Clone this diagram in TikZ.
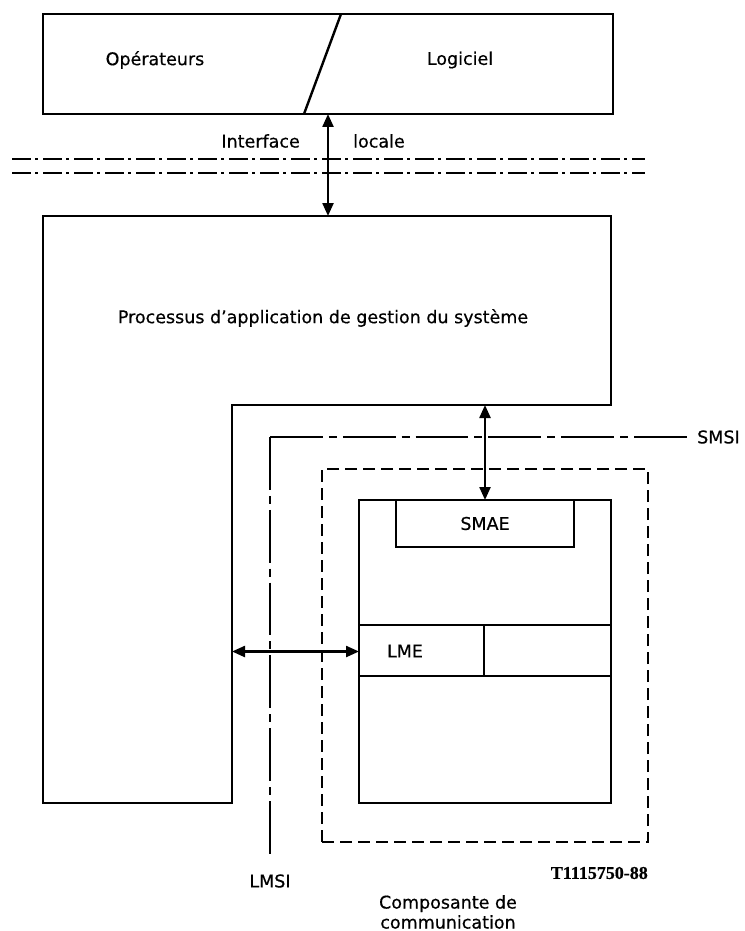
\documentclass[tikz,border=0pt]{standalone}
\usepackage{fontspec}
\setmainfont{DejaVu Sans}
\newfontfamily\lblfont[FakeBold=0.5]{DejaVu Sans}
\newfontfamily\refserif[FakeBold=0.6]{Liberation Serif}
\usetikzlibrary{arrows.meta}
\begin{document}
\begin{tikzpicture}[x=1pt,y=-1pt,
  box/.style={draw, line width=2.6pt, inner sep=0pt, outer sep=0pt, line join=miter},
  lbl/.style={font=\lblfont\fontsize{17.5}{20}\selectfont, inner sep=0pt},
  dbl/.style={{Triangle[length=13pt,width=11pt]}-{Triangle[length=13pt,width=11pt]}, line width=2.3pt},
  ifline/.style={line width=2.4pt, dash pattern=on 19pt off 4pt on 3pt off 5pt},
  msline/.style={line width=2.4pt, dash pattern=on 52.8pt off 6pt on 8pt off 6pt},
  dashbox/.style={draw, line width=2.6pt, dash pattern=on 12pt off 6pt, inner sep=0pt, outer sep=0pt}]
\useasboundingbox (0,0) rectangle (744,931);
% top box
\node[box, minimum width=570pt, minimum height=100pt] (top) at (328,64) {};
\coordinate (s1) at (341,14);
\coordinate (s2) at (304,114);
\draw[line width=2.4pt] (s1) -- (s2);
\node[lbl] (oper) at (155,60) {Opérateurs};
\node[lbl] (logi) at (460,60) {Logiciel};
\node[lbl, anchor=east] (iface) at (300,141) {Interface};
\node[lbl, anchor=west] (locale) at (353,141) {locale};
% dash-dot lines
\coordinate (d1a) at (12,159); \coordinate (d1b) at (645,159);
\coordinate (d2a) at (12,173); \coordinate (d2b) at (645,173);
\draw[ifline] (d1a) -- (d1b);
\draw[ifline] (d2a) -- (d2b);
% L-shaped application process box
\draw[line width=2.6pt, line join=miter] (43,216) -- (611,216) -- (611,405) -- (232,405) -- (232,803) -- (43,803) -- cycle;
\node[lbl] (proc) at (323,318) {Processus d’application de gestion du système};
\coordinate (pTop) at (328,216);
\coordinate (pBot) at (485,405);
\coordinate (pLeft) at (232,651.5);
% communication component
\node[dashbox, minimum width=326pt, minimum height=373pt] (comp) at (485,655.5) {};
\node[box, minimum width=252pt, minimum height=303pt] (inner) at (485,651.5) {};
\node[box, lbl, minimum width=178pt, minimum height=47pt, anchor=north] (smae) at (inner.north) {SMAE};
\node[box, minimum width=125pt, minimum height=51pt, anchor=west] (lme) at (359,650.5) {};
\node[box, minimum width=127pt, minimum height=51pt, anchor=west] (lmer) at (lme.east) {};
\node[lbl] (lmet) at (405,651) {LME};
% SMSI / LMSI line
\node[lbl, anchor=west] (smsi) at (697,437) {SMSI};
\coordinate (smsiEnd) at (687,437);
\coordinate (corner) at (270,437);
\coordinate (lmsiEnd) at (270,857);
\draw[msline] (corner) -- (smsiEnd);
\draw[msline] (corner) -- (lmsiEnd);
\node[lbl] (lmsi) at (270,881) {LMSI};
% arrows
\draw[dbl] (top.south) -- (pTop);
\draw[dbl] (pBot) -- (inner.north);
\draw[dbl] (pLeft) -- (inner.west);
% labels
\node[lbl, align=center] (compl) at (448,912) {Composante de\\communication};
\node[font=\refserif\bfseries\fontsize{18}{20}\selectfont, inner sep=0pt, anchor=east] (ref) at (648,873) {T1115750-88};
\end{tikzpicture}
\end{document}
